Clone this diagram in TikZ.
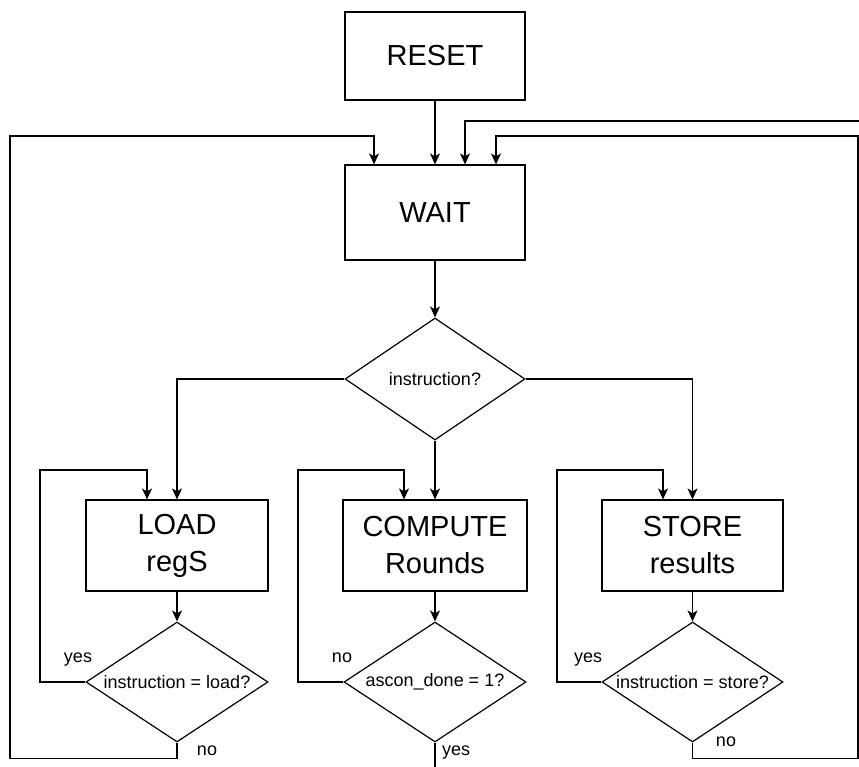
\documentclass[tikz,border=0pt]{standalone}
\usepackage{fontspec}
\setmainfont{Liberation Sans}
\usetikzlibrary{arrows.meta,shapes.geometric}

\begin{document}
\begin{tikzpicture}[x=1pt,y=-1pt,
  stbox/.style={draw, line width=1.2pt, inner sep=0pt, align=center,
    font=\fontsize{29}{37}\selectfont},
  dec/.style={draw, diamond, line width=1.2pt, inner sep=0pt,
    font=\fontsize{18}{22}\selectfont},
  lbl/.style={font=\fontsize{18}{22}\selectfont, inner sep=0pt, anchor=base},
  arr/.style={line width=1.2pt, -{Stealth[length=11pt,width=10pt,inset=3pt]}},
  wire/.style={line width=1.2pt}]

\useasboundingbox (0,0) rectangle (859,767);
\clip (0,0) rectangle (859,767);

% states
\node[stbox, minimum width=180pt, minimum height=88pt] (reset) at (435,56) {RESET};
\node[stbox, minimum width=180pt, minimum height=95pt] (wait) at (435,212.5) {WAIT};
\node[dec, minimum width=180pt, minimum height=122pt] (instr) at (435,379) {\makebox[0pt]{instruction?}};

\node[stbox, minimum width=182pt, minimum height=91pt] (load) at (177,545.5) {LOAD\\regS};
\node[stbox, minimum width=184pt, minimum height=91pt] (comp) at (435,545.5) {COMPUTE\\Rounds};
\node[stbox, minimum width=181pt, minimum height=91pt] (store) at (692.5,545.5) {STORE\\results};

\node[dec, minimum width=182pt, minimum height=120pt] (qload) at (177,682) {\makebox[0pt]{instruction = load?}};
\node[dec, minimum width=182pt, minimum height=120pt] (qdone) at (435,682) {\makebox[0pt]{ascon\_done = 1?}};
\node[dec, minimum width=181pt, minimum height=120pt] (qstore) at (692.5,682) {\makebox[0pt]{instruction = store?}};

% branch labels
\node[lbl] (lyes) at (78,662) {yes};
\node[lbl] (lno) at (207,755) {no};
\node[lbl] (cno) at (342,662) {no};
\node[lbl] (cyes) at (456,755) {yes};
\node[lbl] (syes) at (588,662) {yes};
\node[lbl] (sno) at (726,746) {no};

% off-page ends
\coordinate (exitc) at (435,780);
\coordinate (exitr) at (880,121);

% main flow
\draw[arr] (reset) -- (wait);
\draw[arr] (wait) -- (instr);
\draw[arr] (instr.west) -| (load.north);
\draw[arr] (instr.south) -- (comp.north);
\draw[arr] (instr.east) -| (store.north);
\draw[arr] (load) -- (qload);
\draw[arr] (comp) -- (qdone);
\draw[arr] (store) -- (qstore);

% self loops
\draw[arr] (qload.west) -| (40,470) -| ([xshift=-30pt]load.north);
\draw[arr] (qdone.west) -| (298,470) -| ([xshift=-31pt]comp.north);
\draw[arr] (qstore.west) -| (557,470) -| ([xshift=-29.5pt]store.north);

% return to WAIT
\draw[arr] (qload.south) -- ++(0,16) -| (10,136) -| ([xshift=-61pt]wait.north);
\draw[arr] (qstore.south) -- ++(0,16) -| (858,136) -| ([xshift=61pt]wait.north);
\draw[arr] (exitr) -| ([xshift=30pt]wait.north);
\draw[wire] (qdone.south) -- (exitc);
\end{tikzpicture}
\end{document}
